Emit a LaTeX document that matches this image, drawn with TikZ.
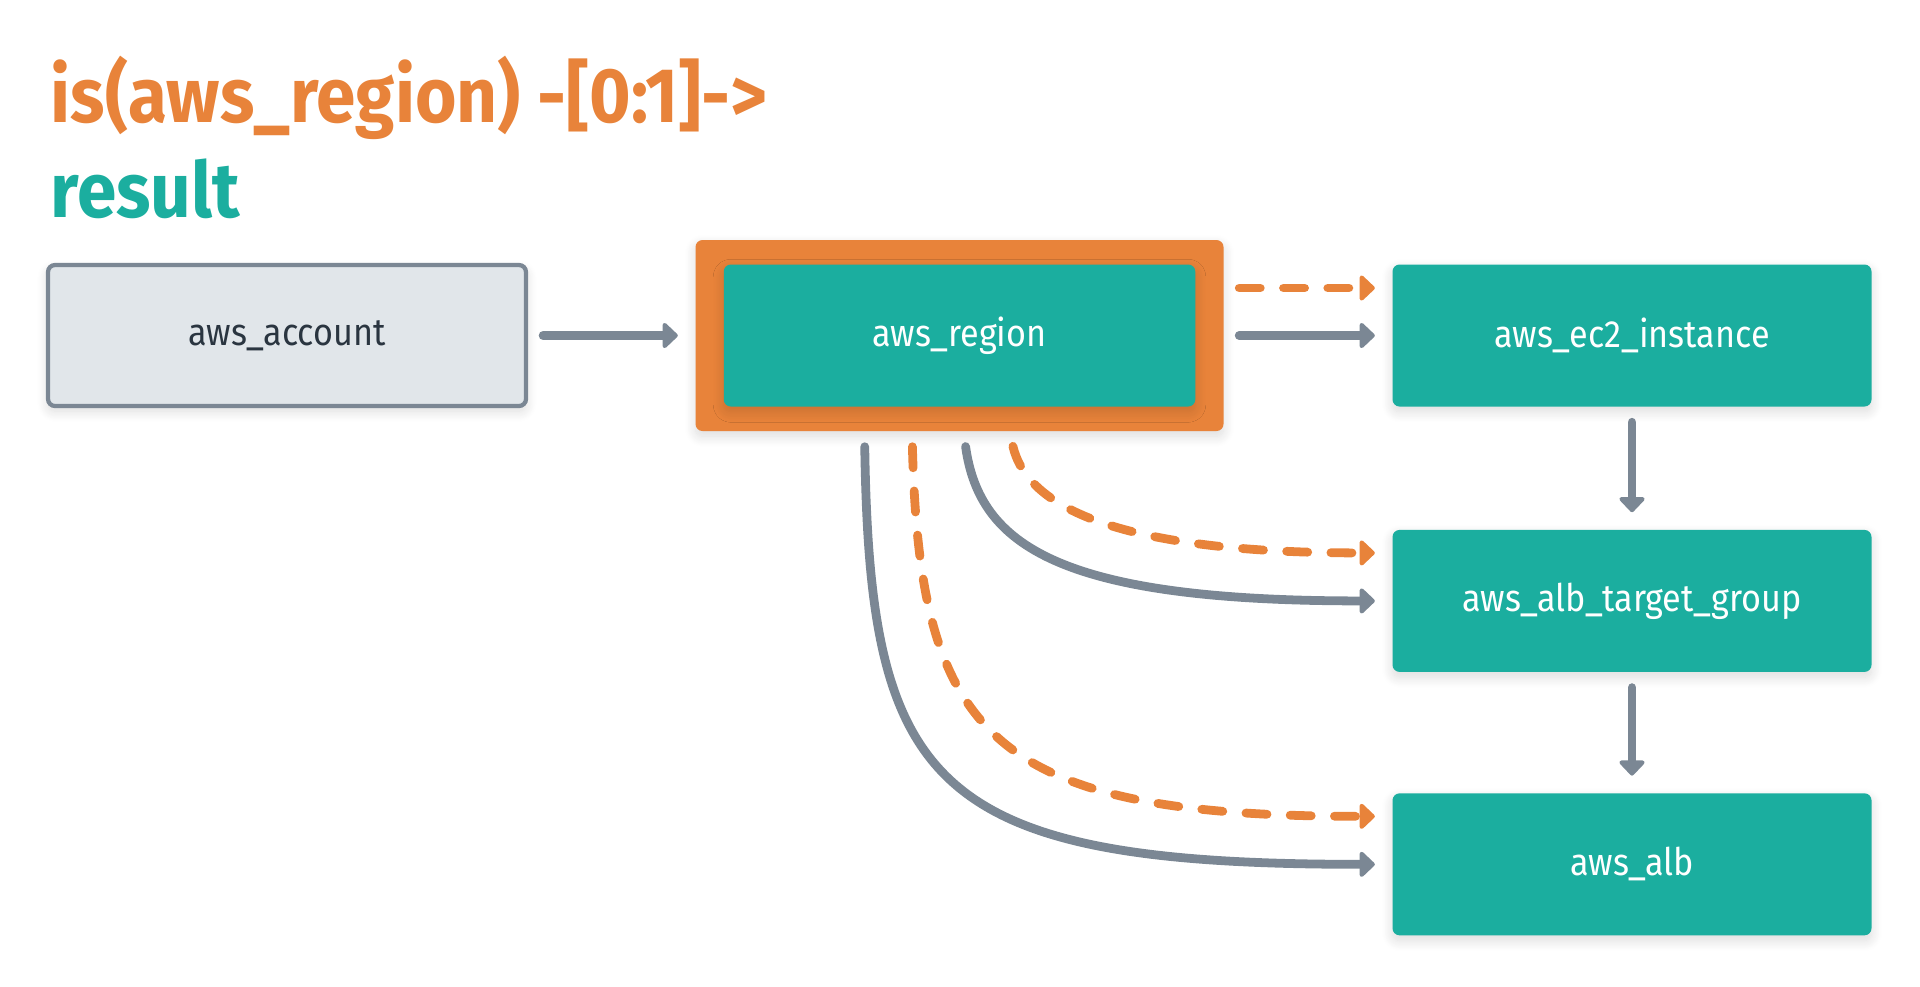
\documentclass[tikz,border=0pt]{standalone}
\usepackage{fontspec}
\setmainfont{Fira Sans}
\newfontfamily\headfont[FakeStretch=0.92]{Fira Sans}
\newfontfamily\boxfont[FakeStretch=0.9]{Fira Sans}
\usepackage{xcolor}
\usetikzlibrary{arrows.meta,positioning,shadows.blur}

\definecolor{hlorange}{HTML}{E8833A}
\definecolor{resteal}{HTML}{1BAE9F}
\definecolor{edgegrey}{HTML}{7B8794}
\definecolor{plainfill}{HTML}{E1E6EA}
\definecolor{plaintext}{HTML}{2A3540}

\tikzset{
	softshadow/.style={blur shadow={shadow blur steps=14, shadow xshift=0pt, shadow yshift=-1.5pt, shadow opacity=14, shadow blur radius=3pt}},
	resource/.style={rectangle, rounded corners=2pt, minimum width=4.79cm, minimum height=1.42cm, fill=resteal, text=white, font=\boxfont\fontsize{10.8}{13}\selectfont, softshadow},
	plainres/.style={resource, fill=plainfill, draw=edgegrey, line width=1.2pt, text=plaintext, minimum width=4.78cm, minimum height=1.41cm},
	heading/.style={anchor=base west, inner sep=0pt, font=\headfont\bfseries\fontsize{22}{26}\selectfont},
	edge/.style={draw=edgegrey, line width=2.5pt, line cap=round, -{Triangle[length=4.6pt,width=8.4pt,round]}, shorten <=0.15cm, shorten >=0.17cm},
	hledge/.style={edge, draw=hlorange, dash pattern=on 6pt off 6.6pt}
}

\begin{document}
\begin{tikzpicture}
	\useasboundingbox (0,0) rectangle (19.2,-9.86);

	\node[heading, text=hlorange] (query) at (0.5,-1.22) {is(aws\_region) -[0:1]->};
	\node[heading, text=resteal] (result) at (0.5,-2.17) {result};

	\node[plainres] (account) at (2.87,-3.355) {aws\_account};

	\node[rectangle, rounded corners=2pt, fill=hlorange, minimum width=5.28cm, minimum height=1.91cm, softshadow] (regionbox) at (9.595,-3.355) {};
	\node[resource, minimum width=4.715cm] (region) at (regionbox) {aws\_region};

	\node[resource] (ec2) at (16.32,-3.355) {aws\_ec2\_instance};
	\node[resource, below=1.22cm of ec2] (target) {aws\_alb\_target\_group};
	\node[resource, below=1.2cm of target] (alb) {aws\_alb};

	\draw[edge] (account) -- (regionbox);
	\draw[edge] (regionbox) -- (ec2);
	\draw[hledge] ([yshift=0.475cm]regionbox.east) -- ([yshift=0.475cm]ec2.west);
	\draw[edge] (ec2) -- (target);
	\draw[edge] (target) -- (alb);

	\draw[edge] ([xshift=0.04cm]regionbox.south) .. controls +(0.16,-1.14) and +(-3.32,0) .. (target.west);
	\draw[hledge] ([xshift=0.5cm]regionbox.south) .. controls +(0.15,-0.64) and +(-3.02,0) .. ([yshift=0.48cm]target.west);
	\draw[edge] ([xshift=-0.95cm]regionbox.south) .. controls +(0.055,-3.54) and +(-4.62,0) .. (alb.west);
	\draw[hledge] ([xshift=-0.475cm]regionbox.south) .. controls +(0.08,-3.04) and +(-4.02,0) .. ([yshift=0.48cm]alb.west);
\end{tikzpicture}
\end{document}
